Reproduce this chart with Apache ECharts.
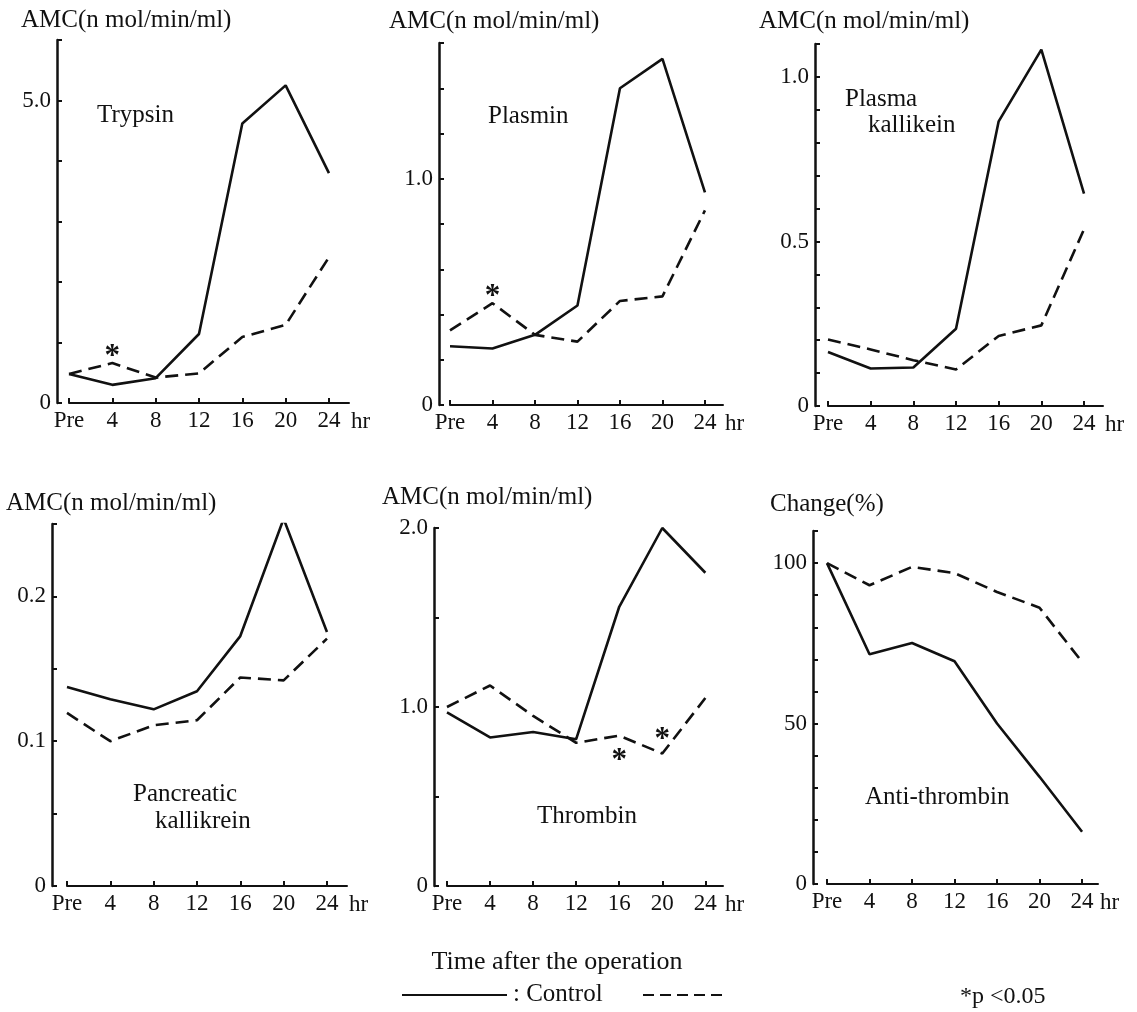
<!DOCTYPE html>
<html>
<head>
<meta charset="utf-8">
<script src="https://cdn.jsdelivr.net/npm/echarts@6/dist/echarts.min.js"></script>
<style>
  html, body { margin: 0; padding: 0; background: #fff; }
  #chart { width: 1137px; height: 1012px; }
</style>
</head>
<body>
<div id="chart"></div>
<script>
// Sampling times (hours after the operation); 0 is the pre-operative sample
const hours = [0, 4, 8, 12, 16, 20, 24];
const hourLabels = ['Pre', '4', '8', '12', '16', '20', '24'];

// AMC release (n mol/min/ml); solid = control, dashed = second group
const trypsinSolid  = [0.48, 0.30, 0.41, 1.14, 4.62, 5.25, 3.80];
const trypsinDashed = [0.48, 0.66, 0.42, 0.49, 1.09, 1.29, 2.41];
const plasminSolid  = [0.26, 0.25, 0.31, 0.44, 1.40, 1.53, 0.94];
const plasminDashed = [0.33, 0.45, 0.31, 0.28, 0.46, 0.48, 0.86];
const plasmaKallSolid  = [0.164, 0.114, 0.117, 0.235, 0.865, 1.083, 0.645];
const plasmaKallDashed = [0.202, 0.172, 0.139, 0.111, 0.213, 0.245, 0.537];
const pancKallSolid  = [0.1375, 0.129, 0.122, 0.1345, 0.1726, 0.2536, 0.1754];
const pancKallDashed = [0.1195, 0.100, 0.111, 0.1145, 0.144, 0.142, 0.1708];
const thrombinSolid  = [0.97, 0.83, 0.86, 0.82, 1.56, 2.00, 1.75];
const thrombinDashed = [1.00, 1.12, 0.95, 0.80, 0.84, 0.74, 1.05];
// Anti-thrombin activity, change (%)
const antithrombinSolid  = [100, 71.6, 75.1, 69.4, 50.0, 33.4, 16.3];
const antithrombinDashed = [100, 93.1, 98.8, 96.9, 91.0, 86.1, 69.2];

// Hours at which the dashed group differs significantly (p < 0.05)
const trypsinStarHours  = [4];
const plasminStarHours  = [4];
const thrombinStarHours = [16, 20];

// Labelled y values per panel
const trypsinYValues  = [0, 5];        const trypsinYText  = ['0', '5.0'];
const plasminYValues  = [0, 1];        const plasminYText  = ['0', '1.0'];
const plasmaYValues   = [0, 0.5, 1];   const plasmaYText   = ['0', '0.5', '1.0'];
const pancYValues     = [0, 0.1, 0.2]; const pancYText     = ['0', '0.1', '0.2'];
const thrombinYValues = [0, 1, 2];     const thrombinYText = ['0', '1.0', '2.0'];
const antiYValues     = [0, 50, 100];  const antiYText     = ['0', '50', '100'];

const FONT = '"Liberation Serif", "DejaVu Serif", serif';
const INK = '#111';

const panels = [
  { solid: trypsinSolid, dashed: trypsinDashed, stars: trypsinStarHours,
    starSide: ['top'], starGap: [-9],
    yMax: 6, yStep: 1, yVals: trypsinYValues, yText: trypsinYText,
    grid: { left: 69, top: 40, width: 280, height: 363 }, xMax: 25.85, yOffset: 12,
    yTitle: 'AMC(n mol/min/ml)', yTitlePos: [21, 21],
    names: [['Trypsin', 97, 116]] },
  { solid: plasminSolid, dashed: plasminDashed, stars: plasminStarHours,
    starSide: ['top'], starGap: [-9],
    yMax: 1.6, yStep: 0.2, yVals: plasminYValues, yText: plasminYText,
    grid: { left: 450, top: 43, width: 273, height: 362 }, xMax: 25.7, yOffset: 11,
    yTitle: 'AMC(n mol/min/ml)', yTitlePos: [389, 22],
    names: [['Plasmin', 488, 117]] },
  { solid: plasmaKallSolid, dashed: plasmaKallDashed, stars: [], starSide: [], starGap: [],
    yMax: 1.1, yStep: 0.1, yVals: plasmaYValues, yText: plasmaYText,
    grid: { left: 828, top: 44, width: 275, height: 362 }, xMax: 25.78, yOffset: 13,
    yTitle: 'AMC(n mol/min/ml)', yTitlePos: [759, 22],
    names: [['Plasma', 845, 100], ['kallikein', 868, 126]] },
  { solid: pancKallSolid, dashed: pancKallDashed, stars: [], starSide: [], starGap: [],
    yMax: 0.25, yStep: 0.05, yVals: pancYValues, yText: pancYText,
    grid: { left: 67, top: 524, width: 280, height: 362 }, xMax: 25.85, yOffset: 15,
    yTitle: 'AMC(n mol/min/ml)', yTitlePos: [6, 504],
    names: [['Pancreatic', 133, 795], ['kallikrein', 155, 822]] },
  { solid: thrombinSolid, dashed: thrombinDashed, stars: thrombinStarHours,
    starSide: ['bottom', 'top'], starGap: [10, -2],
    yMax: 2, yStep: 0.5, yVals: thrombinYValues, yText: thrombinYText,
    grid: { left: 447, top: 528, width: 276, height: 358 }, xMax: 25.64, yOffset: 13,
    yTitle: 'AMC(n mol/min/ml)', yTitlePos: [382, 498],
    names: [['Thrombin', 537, 817]] },
  { solid: antithrombinSolid, dashed: antithrombinDashed, stars: [], starSide: [], starGap: [],
    yMax: 110, yStep: 10, yVals: antiYValues, yText: antiYText,
    grid: { left: 827, top: 531, width: 271, height: 353 }, xMax: 25.5, yOffset: 14,
    yTitle: 'Change(%)', yTitlePos: [770, 505],
    names: [['Anti-thrombin', 865, 798]] }
];

const grids = [], xAxes = [], yAxes = [], series = [], graphics = [];

panels.forEach((p, i) => {
  grids.push(Object.assign({ containLabel: false, outerBoundsMode: 'none' }, p.grid));

  xAxes.push({
    type: 'value', gridIndex: i, min: 0, max: p.xMax,
    splitLine: { show: false },
    axisLine: { show: true, onZero: false, lineStyle: { color: INK, width: 2 } },
    axisTick: { show: true, inside: true, length: 5, customValues: hours,
                lineStyle: { color: INK, width: 2 } },
    axisLabel: { show: true, customValues: hours, margin: 6,
                 formatter: v => hourLabels[hours.indexOf(v)],
                 color: INK, fontFamily: FONT, fontSize: 23 },
    name: 'hr', nameLocation: 'end', nameGap: 2,
    nameTextStyle: { color: INK, fontFamily: FONT, fontSize: 23,
                     verticalAlign: 'top', padding: [7, 0, 0, 0] }
  });

  yAxes.push({
    type: 'value', gridIndex: i, min: 0, max: p.yMax, interval: p.yStep,
    offset: p.yOffset,
    splitLine: { show: false },
    axisLine: { show: true, onZero: false, lineStyle: { color: INK, width: 2.5 } },
    axisTick: { show: true, inside: true, length: 5, lineStyle: { color: INK, width: 2 } },
    axisLabel: { show: true, customValues: p.yVals, margin: 6,
                 formatter: v => {
                   const k = p.yVals.findIndex(t => Math.abs(t - v) < 1e-9);
                   return k >= 0 ? p.yText[k] : '';
                 },
                 color: INK, fontFamily: FONT, fontSize: 23 }
  });

  // Significance asterisks ride on the dashed series as data labels
  const dashedData = hours.map((h, k) => {
    const s = p.stars.indexOf(h);
    if (s < 0) return [h, p.dashed[k]];
    return {
      value: [h, p.dashed[k]],
      label: { show: true, formatter: '*', position: p.starSide[s],
               distance: p.starGap[s],
               color: INK, fontFamily: FONT, fontWeight: 'bold', fontSize: 31 }
    };
  });

  series.push({
    type: 'line', xAxisIndex: i, yAxisIndex: i, silent: true,
    data: hours.map((h, k) => [h, p.solid[k]]),
    showSymbol: false, symbol: 'none',
    lineStyle: { color: INK, width: 2.6, type: 'solid' }
  });
  series.push({
    type: 'line', xAxisIndex: i, yAxisIndex: i, silent: true,
    data: dashedData,
    symbol: 'circle', symbolSize: 0, showSymbol: true,
    itemStyle: { color: 'transparent' },
    lineStyle: { color: INK, width: 2.6, type: [13, 7] }
  });

  graphics.push({
    type: 'text', left: p.yTitlePos[0], top: p.yTitlePos[1] - 13,
    style: { text: p.yTitle, fill: INK, font: '25px ' + FONT }
  });
  p.names.forEach(n => graphics.push({
    type: 'text', left: n[1], top: n[2] - 13,
    style: { text: n[0], fill: INK, font: '25px ' + FONT }
  }));
});

// Shared caption and line key
graphics.push(
  { type: 'text', x: 557, y: 962,
    style: { text: 'Time after the operation', fill: INK, font: '26px ' + FONT,
             align: 'center', verticalAlign: 'middle' } },
  { type: 'line', shape: { x1: 402, y1: 995, x2: 507, y2: 995 },
    style: { stroke: INK, lineWidth: 2 } },
  { type: 'text', x: 513, y: 994,
    style: { text: ': Control', fill: INK, font: '25px ' + FONT, verticalAlign: 'middle' } },
  { type: 'line', shape: { x1: 643, y1: 995, x2: 723, y2: 995 },
    style: { stroke: INK, lineWidth: 2, lineDash: [11, 6] } },
  { type: 'text', x: 960, y: 997,
    style: { text: '*p <0.05', fill: INK, font: '24px ' + FONT, verticalAlign: 'middle' } }
);

const chart = echarts.init(document.getElementById('chart'), null, { renderer: 'canvas' });
chart.setOption({
  backgroundColor: '#fff',
  animation: false,
  grid: grids,
  xAxis: xAxes,
  yAxis: yAxes,
  series: series,
  graphic: graphics
});
</script>
</body>
</html>
